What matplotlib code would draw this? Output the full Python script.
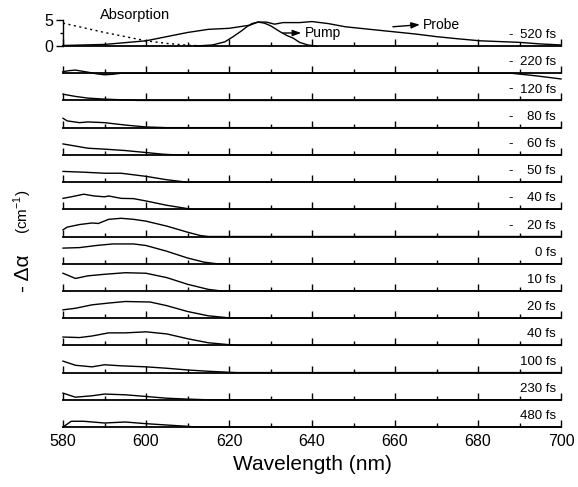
import numpy as np
import matplotlib
matplotlib.use("Agg")
import matplotlib.pyplot as plt

plt.rcParams['font.family'] = ['Liberation Sans', 'DejaVu Sans']
plt.rcParams['mathtext.fontset'] = 'custom'
plt.rcParams['mathtext.rm'] = 'Liberation Sans'

# top panel: absorption, pump and probe spectra
wl_abs = [580, 590, 600, 605, 610, 615]
absorption = [4.4, 2.6, 1.0, 0.5, 0.15, 0]

wl_pump = [612, 616, 619, 621, 623, 624.3, 625.5, 627, 628.5, 630, 632.3, 634, 635.5, 637, 639, 641]
pump = [0, 0.2, 0.8, 1.8, 2.9, 3.7, 4.3, 4.6, 4.4, 3.9, 2.75, 2.0, 1.5, 0.7, 0.2, 0]

wl_probe = [580, 590, 600, 605, 610, 615, 620, 625, 627, 629, 631, 633, 637, 640, 644, 648,
            654, 659.5, 665, 670, 675, 680.5, 690, 695, 700]
probe = [0.1, 0.3, 1.0, 1.8, 2.6, 3.2, 3.4, 4.0, 4.6, 4.6, 4.2, 4.5, 4.5, 4.7, 4.3, 3.7,
         3.2, 2.75, 2.3, 1.8, 1.4, 1.0, 0.7, 0.4, 0.2]

# transient spectra, one per delay
delays = [-220, -120, -80, -60, -50, -40, -20, 0, 10, 20, 40, 100, 230, 480]

wl_m220 = [580, 581.5, 583, 586, 588, 590, 592, 594, 600, 688, 694, 700]
da_m220 = [0.3, 0.5, 0.6, 0.2, -0.1, -0.3, -0.2, 0, 0, 0, -0.5, -1.1]
wl_m120 = [580, 583, 586, 590, 595, 598, 700]
da_m120 = [1.2, 0.77, 0.45, 0.25, 0.1, 0, 0]
wl_m80 = [580, 581, 584, 586, 590, 595, 600, 605, 700]
da_m80 = [1.8, 1.3, 0.96, 1.1, 0.96, 0.5, 0.13, 0, 0]
wl_m60 = [580, 586, 590, 595, 600, 604, 607, 700]
da_m60 = [2.1, 1.28, 1.1, 0.83, 0.45, 0.13, 0, 0]
wl_m50 = [580, 585, 590, 594, 600, 605, 609, 610, 700]
da_m50 = [2.05, 1.9, 1.7, 1.7, 1.1, 0.45, 0.06, 0, 0]
wl_m40 = [580, 582, 585, 587.5, 590, 591, 594, 597, 600, 605, 610, 611, 700]
da_m40 = [2.1, 2.4, 2.9, 2.56, 2.4, 2.56, 2.1, 2.05, 1.6, 0.77, 0.13, 0, 0]
wl_m20 = [580, 581, 584, 587, 588.5, 591, 594, 597, 600, 605, 610, 613, 615, 700]
da_m20 = [1.28, 1.8, 2.3, 2.6, 2.5, 3.3, 3.5, 3.3, 2.95, 2.0, 0.83, 0.2, 0, 0]
wl_p0 = [580, 584, 588, 592, 597, 600, 605, 610, 614, 617, 700]
da_p0 = [3.0, 3.1, 3.5, 3.8, 3.8, 3.5, 2.4, 1.1, 0.3, 0, 0]
wl_p10 = [580, 583, 586, 590, 595, 600, 605, 610, 615, 618, 700]
da_p10 = [3.4, 2.4, 2.9, 3.2, 3.5, 3.4, 2.56, 1.28, 0.3, 0, 0]
wl_p20 = [580, 583, 587, 591, 595, 601, 605, 610, 615, 620, 621, 700]
da_p20 = [1.6, 1.9, 2.56, 2.9, 3.2, 3.1, 2.4, 1.28, 0.45, 0.06, 0, 0]
wl_p40 = [580, 584, 587, 591, 595, 600, 605, 610, 615, 620, 622, 700]
da_p40 = [1.6, 1.5, 1.8, 2.4, 2.4, 2.6, 2.2, 1.28, 0.5, 0.13, 0, 0]
wl_p100 = [580, 583, 587, 590, 594, 600, 605, 610, 615, 620, 622, 700]
da_p100 = [2.2, 1.4, 1.1, 1.5, 1.3, 1.1, 0.83, 0.5, 0.25, 0.06, 0, 0]
wl_p230 = [580, 583, 587, 590, 595, 600, 602, 605, 610, 615, 700]
da_p230 = [1.28, 0.5, 0.77, 1.1, 0.96, 0.64, 0.5, 0.3, 0.13, 0, 0]
wl_p480 = [580, 582, 585, 590, 595, 600, 605, 610, 612, 700]
da_p480 = [0, 1.1, 1.1, 0.77, 0.96, 0.64, 0.38, 0.13, 0, 0]

rows = [(wl_m220, da_m220), (wl_m120, da_m120), (wl_m80, da_m80), (wl_m60, da_m60),
        (wl_m50, da_m50), (wl_m40, da_m40), (wl_m20, da_m20), (wl_p0, da_p0),
        (wl_p10, da_p10), (wl_p20, da_p20), (wl_p40, da_p40), (wl_p100, da_p100),
        (wl_p230, da_p230), (wl_p480, da_p480)]

fig, axes = plt.subplots(15, 1, figsize=(5.78, 4.87), dpi=100, sharex=True,
                         gridspec_kw=dict(hspace=0))
fig.subplots_adjust(left=0.109, right=0.9706, top=0.9614, bottom=0.1232)

lw = 1.0
lab_fs = 9.5
for ax in axes:
    ax.set_xlim(580, 700)
    ax.set_ylim(0, 5.23)
    ax.patch.set_visible(False)
    for s in ['top', 'right', 'left']:
        ax.spines[s].set_visible(False)
    ax.spines['bottom'].set_linewidth(1.3)
    ax.set_xticks(np.arange(580, 701, 20))
    ax.set_xticks(np.arange(590, 700, 20), minor=True)
    ax.tick_params(axis='x', which='major', direction='in', length=5, width=1.0,
                   labelsize=11.5, pad=5)
    ax.tick_params(axis='x', which='minor', direction='in', length=2.8, width=1.0)
    ax.set_yticks([])

# top panel
top = axes[0]
top.spines['left'].set_visible(True)
top.spines['left'].set_bounds(0, 5)
top.spines['left'].set_linewidth(1.0)
top.set_yticks([0, 5])
top.set_yticks([2.5], minor=True)
top.tick_params(axis='y', which='major', direction='out', length=5, width=1.0,
                labelsize=11.5, pad=2)
top.tick_params(axis='y', which='minor', direction='out', length=2.5, width=1.0)
top.plot(wl_abs, absorption, color='k', lw=1.0, ls=(0, (1.5, 2.5)), clip_on=False)
top.plot(wl_probe, probe, color='k', lw=lw, clip_on=False)
top.plot(wl_pump, pump, color='k', lw=lw, clip_on=False)
top.text(588.9, 5.2, "Absorption", fontsize=10.5, ha='left', va='baseline')
top.annotate('', xy=(637.4, 2.5), xytext=(633.0, 2.5),
             arrowprops=dict(arrowstyle='-|>,head_length=0.5,head_width=0.18',
                             color='k', lw=1.0, shrinkA=0, shrinkB=0))
top.text(638.2, 2.5, "Pump", fontsize=10, ha='left', va='center')
top.annotate('', xy=(666.0, 4.1), xytext=(659.5, 3.7),
             arrowprops=dict(arrowstyle='-|>,head_length=0.5,head_width=0.18',
                             color='k', lw=1.0, shrinkA=0, shrinkB=0))
top.text(666.8, 4.1, "Probe", fontsize=10, ha='left', va='center')
top.text(0.99, 0.29, "520 fs", transform=top.transAxes, fontsize=lab_fs,
         ha='right', va='baseline')
top.text(0.895, 0.29, "-", transform=top.transAxes, fontsize=lab_fs,
         ha='left', va='baseline')

for ax, (wl, da), d in zip(axes[1:], rows, delays):
    ax.plot(wl, da, color='k', lw=lw, clip_on=False)
    ax.text(0.99, 0.29, "%d fs" % abs(d), transform=ax.transAxes, fontsize=lab_fs,
            ha='right', va='baseline')
    if d < 0:
        ax.text(0.895, 0.29, "-", transform=ax.transAxes, fontsize=lab_fs,
                ha='left', va='baseline')

axes[-1].set_xlabel("Wavelength (nm)", fontsize=15, labelpad=4)

# y label: big delta alpha, smaller units
fig.text(0.040, 1 - 273 / 487, "- \u0394\u03b1", rotation=90, fontsize=15,
         ha='center', va='center')
fig.text(0.040, 1 - 212 / 487, "(cm$^{-1}$)", rotation=90, fontsize=11,
         ha='center', va='center')

fig.savefig("out.png", dpi=100)
